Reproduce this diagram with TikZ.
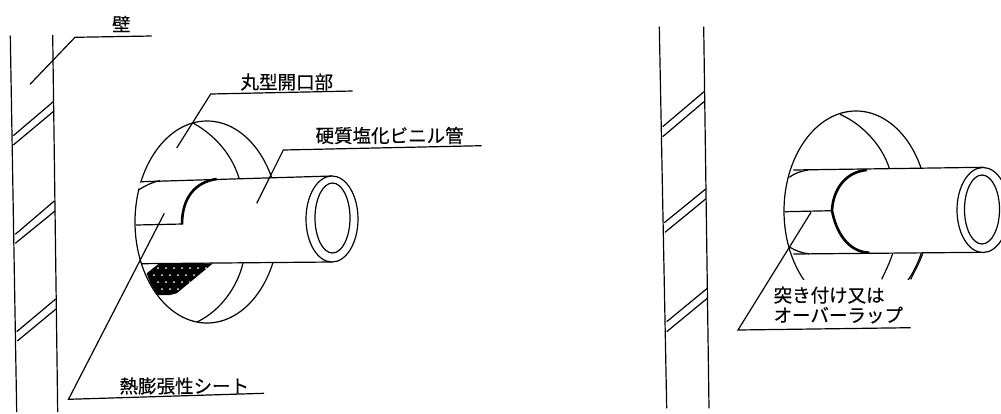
\documentclass[tikz,border=0pt]{standalone}
\usepackage{fontspec}
\newfontfamily\cjkfont[FakeBold=0.4]{Noto Sans CJK JP}
\usepackage{tikz}

\tikzset{
	outline/.style={line width=1.2pt, black},
	leader/.style={line width=1.2pt, black},
	seam/.style={line width=2.6pt, black},
	caption/.style={inner sep=0pt, anchor=west, font=\fontsize{18.5}{20}\selectfont\cjkfont}
}

\begin{document}
\begin{tikzpicture}[x=1pt, y=-1pt, outline]
		\useasboundingbox (0,0) rectangle (1001,413);

		% left wall
		\draw (10.3,35.7) -- (16.7,412);
		\draw (52.7,35) -- (57.7,412);
		\foreach \xa/\ya/\xb/\yb in {13.3/135.7/53.3/101.7, 13.3/145/54/111, 15.3/234.3/54.3/201, 15.3/243.3/55/211, 16.7/331.7/55.7/299, 17.3/341/56/309}
			\draw (\xa,\ya) -- (\xb,\yb);

		% right wall
		\draw (659.3,26.7) -- (666.7,408.3);
		\draw (703.7,26.7) -- (709,408.3);
		\foreach \xa/\ya/\xb/\yb in {662.7/126.7/704/91.7, 662.7/136.7/704/101.7, 664.3/222.7/705.7/189, 665/232.3/706/198.7, 666.7/321.7/707.3/288.3, 666.7/331.7/707.3/298.3}
			\draw (\xa,\ya) -- (\xb,\yb);

		% left opening
		\draw (207,222) ellipse [x radius=72, y radius=101];
		\draw (193,123) .. controls (215,135) and (232,155) .. (239,178);
		\draw (197,322) .. controls (222,310) and (238,285) .. (243,263);
		\fill[black] (146.7,273.3) -- (159,263.5) -- (213,263.3) -- (176.7,293.3) -- (170,295) -- (158,295) .. controls (153,289) and (149,281) .. cycle;
		\begin{scope}
			\clip (146.7,273.3) -- (159,263.5) -- (213,263.3) -- (176.7,293.3) -- (170,295) -- (158,295) -- cycle;
			\foreach \j in {0,...,4}
				\foreach \i in {0,...,9}
					\fill[white] ({142+8*\i+4*mod(\j,2)},{268+7*\j}) circle (1);
		\end{scope}

		% left pipe
		\fill[white] (142,181.7) -- (332,176) -- (332,262) -- (142,263.7) -- cycle;
		\draw[white, line width=2.4pt] (141.2,183) -- (139,188.5);
		\draw (142,181.7) -- (332,176);
		\draw (142,263.7) -- (332,262);
		\draw[fill=white] (332,219) ellipse [x radius=26, y radius=43];
		\draw (332.5,218) ellipse [x radius=17.5, y radius=35];
		\draw (138.3,190) .. controls (145,186) and (152,182) .. (160,180.7);
		\draw (136,225) -- (182.7,224);
		\draw[seam] (182,224.3) .. controls (182,198) and (195,182) .. (216.7,179);

		% right opening
		\begin{scope}
			\clip (770,100) rectangle (940,279.3);
			\draw (856,211) ellipse [x radius=72, y radius=100];
			\draw (881.7,279.3) .. controls (886,270) and (890,262) .. (892.7,253.3);
			\draw (910.7,279.3) .. controls (915,270) and (920,262) .. (922.7,253.3);
		\end{scope}
		\draw (840,114.3) .. controls (862,124) and (882,145) .. (889.3,168.3);

		% right pipe
		\fill[white] (793.3,170) -- (983,167.3) -- (983,252.3) -- (793.3,254) -- cycle;
		\draw (793.3,170) -- (983,167.3);
		\draw (793.3,254) -- (983,252.3);
		\draw[fill=white] (983,210) ellipse [x radius=26, y radius=42.5];
		\draw (982,209.5) ellipse [x radius=17.5, y radius=34.5];
		\draw (789.3,177.3) .. controls (795,173) and (801,171) .. (808.3,170);
		\draw (789,246.7) .. controls (796,251) and (802,253) .. (809.3,254);
		\draw (785,211.7) -- (831.7,210.7);
		\draw[seam] (866.7,170) .. controls (845,172) and (833,190) .. (832,210.5) .. controls (836,232) and (848,252) .. (869.3,252.7);

		% captions
		\node[caption] (wall) at (111.5,24) {壁};
		\node[caption] (opening) at (240,82) {丸型開口部};
		\node[caption] (pipe) at (315,135.5) {硬質塩化ビニル管};
		\node[caption] (sheet) at (119,386) {熱膨張性シート};
		\node[caption, align=left] (lap) at (773,305) {突き付け又は\\オーバーラップ};

		% leaders
		\coordinate (wallend) at (30,84.3);
		\coordinate (wallbend) at (75,37.3);
		\coordinate (walltail) at (151.7,36);
		\draw[leader] (wallend) -- (wallbend) -- (walltail);
		\coordinate (openingend) at (176.7,148);
		\coordinate (openingbend) at (210.7,94);
		\coordinate (openingtail) at (352.7,91);
		\draw[leader] (openingend) -- (openingbend) -- (openingtail);
		\coordinate (pipeend) at (256.7,203.3);
		\coordinate (pipebend) at (283.3,150);
		\coordinate (pipetail) at (481.7,145.7);
		\draw[leader] (pipeend) -- (pipebend) -- (pipetail);
		\coordinate (sheetend) at (164.3,213.3);
		\coordinate (sheetbend) at (68.5,399.3);
		\coordinate (sheettail) at (264,393.3);
		\draw[leader] (sheetend) -- (sheetbend) -- (sheettail);
		\coordinate (lapend) at (811,212.3);
		\coordinate (lapbend) at (738,330);
		\coordinate (laptail) at (910.7,327.7);
		\draw[leader] (lapend) -- (lapbend) -- (laptail);
	\end{tikzpicture}
\end{document}
